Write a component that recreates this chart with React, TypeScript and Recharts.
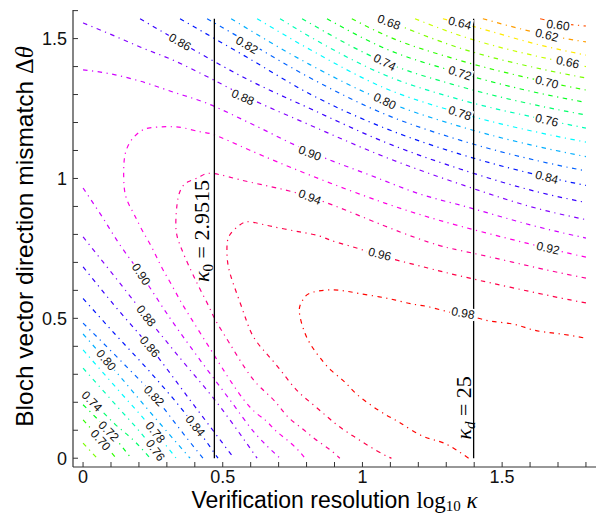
import React from 'react';
import { ComposedChart, Line, XAxis, YAxis, Scatter, ReferenceLine } from 'recharts';

type P = [number, number];

// axis ticks
const xTicks = [0, 0.1, 0.2, 0.3, 0.4, 0.5, 0.6, 0.7, 0.8, 0.9, 1, 1.1, 1.2, 1.3, 1.4, 1.5, 1.6, 1.7, 1.8];
const xMajor = [0, 0.5, 1, 1.5];
const yTicks = [0, 0.1, 0.2, 0.3, 0.4, 0.5, 0.6, 0.7, 0.8, 0.9, 1, 1.1, 1.2, 1.3, 1.4, 1.5, 1.6];
const yMajor = [0, 0.5, 1, 1.5];

const X_DOMAIN: [number, number] = [-0.036, 1.836];
const Y_DOMAIN: [number, number] = [-0.0314, 1.6022];

// vertical markers
const kappa0 = 0.47; // log10(2.9515)
const kappaD = 1.398; // log10(25)
const thetaMax = 1.5708;

// contour lines (x = log10 kappa, y = delta theta)
const c060: P[] = [[1.636, 1.571], [1.700, 1.557], [1.8, 1.545]];
const c062: P[] = [[1.431, 1.571], [1.660, 1.513], [1.8, 1.488]];
const c064: P[] = [[1.288, 1.571], [1.349, 1.556], [1.660, 1.471], [1.8, 1.441]];
const c066: P[] = [[1.188, 1.571], [1.349, 1.511], [1.660, 1.429], [1.8, 1.400]];
const c068: P[] = [[1.073, 1.571], [1.349, 1.466], [1.660, 1.387], [1.8, 1.359]];
const c070: P[] = [[0.962, 1.571], [1.080, 1.513], [1.349, 1.422], [1.660, 1.345], [1.8, 1.316]];
const c072: P[] = [[0.873, 1.571], [1.080, 1.465], [1.349, 1.377], [1.660, 1.299], [1.8, 1.272]];
const c074: P[] = [[0.784, 1.571], [1.080, 1.416], [1.349, 1.329], [1.660, 1.254], [1.8, 1.227]];
const c076: P[] = [[0.705, 1.571], [0.812, 1.507], [1.080, 1.370], [1.349, 1.282], [1.660, 1.209], [1.8, 1.180]];
const c078: P[] = [[0.623, 1.571], [0.812, 1.461], [1.080, 1.323], [1.349, 1.234], [1.660, 1.158], [1.8, 1.130]];
const c080: P[] = [[0.530, 1.571], [0.812, 1.407], [1.080, 1.277], [1.349, 1.186], [1.660, 1.107], [1.8, 1.078]];
const c082: P[] = [[0.444, 1.571], [0.587, 1.489], [0.812, 1.360], [1.080, 1.230], [1.349, 1.137], [1.660, 1.056], [1.8, 1.027]];
const c084: P[] = [[0.347, 1.571], [0.587, 1.433], [0.812, 1.302], [1.080, 1.180], [1.349, 1.087], [1.660, 1.005], [1.8, 0.975]];
const c086: P[] = [[0.204, 1.571], [0.347, 1.488], [0.587, 1.355], [0.812, 1.250], [1.080, 1.130], [1.349, 1.034], [1.660, 0.944], [1.8, 0.914]];
const c088: P[] = [[0, 1.556], [0.097, 1.516], [0.204, 1.470], [0.322, 1.423], [0.454, 1.359], [0.572, 1.298], [0.812, 1.191], [1.080, 1.077], [1.349, 0.980], [1.660, 0.884], [1.8, 0.853]];
const c090: P[] = [[0, 1.388], [0.082, 1.377], [0.204, 1.348], [0.322, 1.309], [0.440, 1.270], [0.597, 1.198], [0.812, 1.095], [1.027, 1.012], [1.216, 0.941], [1.349, 0.905], [1.660, 0.819], [1.8, 0.787]];
const c092: P[] = [[1.8, 0.719], [1.660, 0.751], [1.349, 0.830], [1.080, 0.912], [0.812, 1.012], [0.597, 1.101], [0.472, 1.155], [0.418, 1.167], [0.358, 1.181], [0.298, 1.185], [0.239, 1.181], [0.203, 1.167], [0.173, 1.137], [0.153, 1.096], [0.146, 1.048], [0.146, 0.988], [0.155, 0.929], [0.182, 0.873], [0.211, 0.816], [0.247, 0.752], [0.279, 0.687], [0.315, 0.623], [0.351, 0.558], [0.386, 0.501], [0.426, 0.437], [0.469, 0.369], [0.526, 0.279], [0.597, 0.183], [0.651, 0.137], [0.687, 0.101], [0.723, 0.071], [0.764, 0.035], [0.794, 0]];
const c094: P[] = [[1.8, 0.644], [1.660, 0.673], [1.395, 0.733], [1.270, 0.762], [1.080, 0.830], [0.812, 0.934], [0.597, 0.987], [0.465, 1.018], [0.418, 1.006], [0.376, 0.988], [0.352, 0.965], [0.340, 0.930], [0.334, 0.881], [0.333, 0.815], [0.347, 0.762], [0.369, 0.709], [0.394, 0.655], [0.422, 0.598], [0.451, 0.541], [0.476, 0.490], [0.526, 0.408], [0.597, 0.297], [0.651, 0.238], [0.693, 0.196], [0.733, 0.148], [0.783, 0.107], [0.830, 0.069], [0.878, 0.035], [0.907, 0.011], [0.919, 0]];
const c096: P[] = [[1.8, 0.555], [1.660, 0.583], [1.395, 0.641], [1.234, 0.680], [1.055, 0.726], [1.002, 0.744], [0.943, 0.762], [0.884, 0.780], [0.848, 0.794], [0.776, 0.809], [0.669, 0.830], [0.596, 0.845], [0.561, 0.834], [0.525, 0.798], [0.515, 0.751], [0.519, 0.691], [0.537, 0.626], [0.561, 0.559], [0.584, 0.494], [0.608, 0.437], [0.645, 0.387], [0.687, 0.339], [0.729, 0.286], [0.770, 0.238], [0.818, 0.196], [0.866, 0.155], [0.913, 0.116], [0.967, 0.079], [1.021, 0.045], [1.074, 0.014], [1.104, 0]];
const c098: P[] = [[1.38, 0], [1.292, 0.054], [1.22, 0.077], [1.137, 0.125], [1.084, 0.155], [1.03, 0.19], [0.976, 0.232], [0.935, 0.274], [0.887, 0.315], [0.845, 0.363], [0.81, 0.414], [0.786, 0.47], [0.774, 0.53], [0.786, 0.565], [0.81, 0.589], [0.869, 0.601], [0.929, 0.599], [0.988, 0.589], [1.06, 0.577], [1.119, 0.565], [1.179, 0.551], [1.238, 0.541], [1.328, 0.518], [1.393, 0.506], [1.459, 0.49], [1.542, 0.479], [1.613, 0.458], [1.696, 0.446], [1.8, 0.429]];
// lower-left branches
const c090b: P[] = [[0, 0.966], [0.071, 0.859], [0.125, 0.773], [0.207, 0.658], [0.311, 0.501], [0.419, 0.351], [0.526, 0.208], [0.615, 0.090], [0.705, 0]];
const c088b: P[] = [[0, 0.791], [0.114, 0.648], [0.225, 0.508], [0.347, 0.358], [0.472, 0.208], [0.623, 0]];
const c086b: P[] = [[0, 0.684], [0.114, 0.544], [0.240, 0.397], [0.383, 0.208], [0.540, 0]];
const c084b: P[] = [[0, 0.571], [0.114, 0.444], [0.240, 0.308], [0.401, 0.115], [0.483, 0]];
const c082b: P[] = [[0, 0.483], [0.132, 0.351], [0.254, 0.223], [0.340, 0.112], [0.429, 0]];
const c080b: P[] = [[0, 0.444], [0.082, 0.351], [0.240, 0.165], [0.383, 0]];
const c078b: P[] = [[0, 0.387], [0.132, 0.237], [0.258, 0.094], [0.333, 0]];
const c076b: P[] = [[0, 0.322], [0.114, 0.194], [0.232, 0.059], [0.275, 0]];
const c074b: P[] = [[0, 0.237], [0.032, 0.205], [0.114, 0.122], [0.186, 0.059], [0.240, 0]];
const c072b: P[] = [[0, 0.191], [0.092, 0.097], [0.125, 0.059], [0.172, 0]];
const c070b: P[] = [[0, 0.137], [0.064, 0.065], [0.118, 0]];
const c068b: P[] = [[0, 0.054], [0.050, 0]];

const contours: { level: number; pts: P[] }[] = [
  { level: 0.60, pts: c060 }, { level: 0.62, pts: c062 }, { level: 0.64, pts: c064 },
  { level: 0.66, pts: c066 }, { level: 0.68, pts: c068 }, { level: 0.70, pts: c070 },
  { level: 0.72, pts: c072 }, { level: 0.74, pts: c074 }, { level: 0.76, pts: c076 },
  { level: 0.78, pts: c078 }, { level: 0.80, pts: c080 }, { level: 0.82, pts: c082 },
  { level: 0.84, pts: c084 }, { level: 0.86, pts: c086 }, { level: 0.88, pts: c088 },
  { level: 0.90, pts: c090 }, { level: 0.92, pts: c092 }, { level: 0.94, pts: c094 },
  { level: 0.96, pts: c096 }, { level: 0.98, pts: c098 },
  { level: 0.90, pts: c090b }, { level: 0.88, pts: c088b }, { level: 0.86, pts: c086b },
  { level: 0.84, pts: c084b }, { level: 0.82, pts: c082b }, { level: 0.80, pts: c080b },
  { level: 0.78, pts: c078b }, { level: 0.76, pts: c076b }, { level: 0.74, pts: c074b },
  { level: 0.72, pts: c072b }, { level: 0.70, pts: c070b }, { level: 0.68, pts: c068b },
];

// contour labels: [level, x, y]
const contourLabels: [number, number, number][] = [
  [0.86, 0.347, 1.488], [0.82, 0.587, 1.477], [0.88, 0.572, 1.291], [0.68, 1.095, 1.559],
  [0.74, 1.080, 1.416], [0.80, 1.080, 1.277], [0.90, 0.812, 1.091], [0.94, 0.812, 0.934],
  [0.96, 1.062, 0.730], [0.98, 1.360, 0.519], [0.64, 1.349, 1.556], [0.72, 1.349, 1.377],
  [0.78, 1.349, 1.234], [0.60, 1.700, 1.549], [0.62, 1.660, 1.513], [0.66, 1.735, 1.416],
  [0.70, 1.660, 1.345], [0.76, 1.660, 1.209], [0.84, 1.660, 1.005], [0.92, 1.664, 0.751],
  [0.90, 0.208, 0.658], [0.88, 0.226, 0.509], [0.86, 0.239, 0.399], [0.80, 0.083, 0.351],
  [0.82, 0.254, 0.223], [0.84, 0.402, 0.116], [0.74, 0.032, 0.204], [0.72, 0.092, 0.097],
  [0.70, 0.063, 0.065], [0.78, 0.259, 0.093], [0.76, 0.259, 0.029],
];

const annotations = [
  { x: 0.451, y: 0.812, sub: '0', subItalic: false, value: '2.9515' },
  { x: 1.387, y: 0.18, sub: 'd', subItalic: true, value: '25' },
];

const SANS = "'Liberation Sans', Arial, Helvetica, sans-serif";
const SERIF = "'Liberation Serif', 'Times New Roman', serif";
const PLOT_W = 523;
const PLOT_H = 457;
const KX = PLOT_W / (X_DOMAIN[1] - X_DOMAIN[0]);
const KY = PLOT_H / (Y_DOMAIN[1] - Y_DOMAIN[0]);

const levelColor = (l: number) => {
  const h = (19 + (l - 0.6) * 900) % 360;
  return `hsl(${h.toFixed(0)}, 100%, 50%)`;
};

const isMonotoneX = (pts: P[]) => pts.every((p, i) => i === 0 || p[0] > pts[i - 1][0]);

const labelAngle = (level: number, x: number, y: number) => {
  let best = Infinity;
  let ang = 0;
  for (const c of contours) {
    if (Math.abs(c.level - level) > 1e-6) continue;
    for (let i = 0; i < c.pts.length - 1; i++) {
      const ax = c.pts[i][0] * KX, ay = -c.pts[i][1] * KY;
      const bx = c.pts[i + 1][0] * KX, by = -c.pts[i + 1][1] * KY;
      const px = x * KX, py = -y * KY;
      const dx = bx - ax, dy = by - ay;
      const len2 = dx * dx + dy * dy || 1;
      const t = Math.max(0, Math.min(1, ((px - ax) * dx + (py - ay) * dy) / len2));
      const d = Math.hypot(ax + t * dx - px, ay + t * dy - py);
      if (d < best) {
        best = d;
        let a = (Math.atan2(dy, dx) * 180) / Math.PI;
        if (a > 90) a -= 180;
        if (a < -90) a += 180;
        ang = a;
      }
    }
  }
  return ang;
};

const LabelShape = (props: any) => {
  const { cx, cy, payload } = props;
  if (cx == null || cy == null) return null;
  const ang = labelAngle(payload.level, payload.x, payload.y);
  return (
    <g transform={`translate(${cx},${cy}) rotate(${ang})`}>
      <rect x={-13} y={-6} width={26} height={12} fill="#ffffff" />
      <text x={0} y={4.2} textAnchor="middle" fontSize={12} fontFamily={SANS} fill="#111">
        {payload.level.toFixed(2)}
      </text>
    </g>
  );
};

const AnnotShape = (props: any) => {
  const { cx, cy, payload } = props;
  if (cx == null || cy == null) return null;
  return (
    <text transform={`translate(${cx},${cy}) rotate(-90)`} textAnchor="middle" fontFamily={SERIF} fontSize={22} fill="#000">
      <tspan fontStyle="italic">κ</tspan>
      <tspan fontSize={15} dy={4} fontStyle={payload.subItalic ? 'italic' : 'normal'}>{payload.sub}</tspan>
      <tspan dy={-4}>{'\u00a0=\u00a0' + payload.value}</tspan>
    </text>
  );
};

const XTitle = (props: any) => {
  const vb = props.viewBox || { x: 73, y: 467, width: 523, height: 48 };
  return (
    <text x={vb.x + vb.width / 2} y={vb.y + 41} textAnchor="middle" fontSize={23} fill="#000" fontFamily={SANS}>
      <tspan>Verification resolution </tspan>
      <tspan fontFamily={SERIF}>log</tspan>
      <tspan fontFamily={SERIF} fontSize={15} dy={3}>10</tspan>
      <tspan fontFamily={SERIF} fontStyle="italic" dy={-3}>{'\u00a0κ'}</tspan>
    </text>
  );
};

const YTitle = (props: any) => {
  const vb = props.viewBox || { x: 0, y: 10, width: 73, height: 457 };
  const cy = vb.y + vb.height / 2 - 2;
  return (
    <text transform={`translate(33,${cy}) rotate(-90)`} textAnchor="middle" fontSize={24.5} fill="#000" fontFamily={SANS}>
      <tspan>Bloch vector direction mismatch </tspan>
      <tspan fontFamily={SERIF}>Δ</tspan>
      <tspan fontFamily={SERIF} fontStyle="italic">θ</tspan>
    </text>
  );
};

const fmtX = (v: number) => (xMajor.some((m) => Math.abs(m - v) < 1e-9) ? String(v) : '');
const fmtY = (v: number) => (yMajor.some((m) => Math.abs(m - v) < 1e-9) ? String(v) : '');

const axisLine = { stroke: '#333', strokeWidth: 1.2 };
const tickLine = { stroke: '#333', strokeWidth: 1 };
const tickStyle = { fontSize: 18, fill: '#111', fontFamily: SANS };

export default function App() {
  const labelData = contourLabels.map(([level, x, y]) => ({ level, x, y }));
  return (
    <div style={{ position: 'absolute', left: 0, top: 0, background: '#fff' }}>
      <ComposedChart width={598} height={515} margin={{ top: 10, right: 2, bottom: 0, left: 0 }}>
        <XAxis
          xAxisId={0}
          type="number"
          dataKey="x"
          domain={X_DOMAIN}
          allowDataOverflow
          ticks={xTicks}
          interval={0}
          tickSize={-5}
          tickMargin={8}
          tickFormatter={fmtX}
          height={48}
          axisLine={axisLine}
          tickLine={tickLine}
          tick={tickStyle}
          label={{ content: XTitle }}
        />
        <XAxis
          xAxisId="top"
          orientation="top"
          type="number"
          domain={X_DOMAIN}
          allowDataOverflow
          ticks={xTicks}
          interval={0}
          tickSize={-5}
          tick={false}
          height={0}
          axisLine={axisLine}
          tickLine={tickLine}
        />
        <YAxis
          yAxisId={0}
          type="number"
          dataKey="y"
          domain={Y_DOMAIN}
          allowDataOverflow
          ticks={yTicks}
          interval={0}
          tickSize={-5}
          tickMargin={11}
          tickFormatter={fmtY}
          width={73}
          axisLine={axisLine}
          tickLine={tickLine}
          tick={tickStyle}
          label={{ content: YTitle }}
        />
        <YAxis
          yAxisId="right"
          orientation="right"
          type="number"
          domain={Y_DOMAIN}
          allowDataOverflow
          ticks={yTicks}
          interval={0}
          tickSize={-5}
          tick={false}
          width={0}
          axisLine={axisLine}
          tickLine={tickLine}
        />
        {contours.map((c, i) => (
          <Line
            key={`c${i}`}
            data={c.pts.map(([x, y]) => ({ x, y }))}
            dataKey="y"
            type={isMonotoneX(c.pts) ? 'monotone' : 'natural'}
            stroke={levelColor(c.level)}
            strokeWidth={1.2}
            strokeDasharray="4.5 4.5 1.2 4.5"
            dot={false}
            activeDot={false}
            isAnimationActive={false}
            legendType="none"
          />
        ))}
        <ReferenceLine segment={[{ x: kappa0, y: 0 }, { x: kappa0, y: thetaMax }]} stroke="#000" strokeWidth={1.3} />
        <ReferenceLine segment={[{ x: kappaD, y: 0 }, { x: kappaD, y: thetaMax }]} stroke="#000" strokeWidth={1.3} />
        <Scatter data={labelData} dataKey="y" shape={LabelShape} isAnimationActive={false} legendType="none" />
        <Scatter data={annotations} dataKey="y" shape={AnnotShape} isAnimationActive={false} legendType="none" />
      </ComposedChart>
    </div>
  );
}
